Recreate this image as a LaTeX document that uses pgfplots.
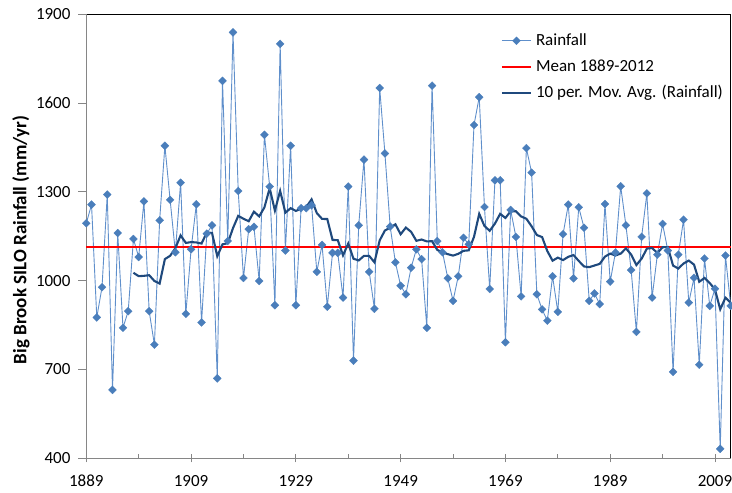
\documentclass[border=0pt]{standalone}
\usepackage{pgfplots}
\usepackage{pgfplotstable}
\pgfplotsset{compat=1.18}
\usepackage{fontspec}
\setmainfont{Carlito}
\definecolor{rainblue}{RGB}{74,126,187}
\definecolor{rainline}{RGB}{95,143,203}
\definecolor{mavg}{RGB}{31,73,125}
\definecolor{axgray}{RGB}{134,134,134}

\pgfplotstableread{
year rain
1889 1194
1890 1257
1891 876
1892 978
1893 1291
1894 631
1895 1161
1896 841
1897 897
1898 1141
1899 1080
1900 1268
1901 897
1902 784
1903 1204
1904 1456
1905 1273
1906 1096
1907 1331
1908 888
1909 1106
1910 1258
1911 859
1912 1159
1913 1187
1914 670
1915 1675
1916 1134
1917 1839
1918 1303
1919 1009
1920 1174
1921 1182
1922 999
1923 1493
1924 1318
1925 917
1926 1800
1927 1102
1928 1456
1929 917
1930 1245
1931 1245
1932 1255
1933 1030
1934 1121
1935 912
1936 1094
1937 1094
1938 943
1939 1318
1940 730
1941 1187
1942 1409
1943 1030
1944 905
1945 1651
1946 1430
1947 1183
1948 1062
1949 983
1950 954
1951 1044
1952 1106
1953 1073
1954 841
1955 1659
1956 1134
1957 1096
1958 1008
1959 932
1960 1015
1961 1145
1962 1123
1963 1526
1964 1620
1965 1249
1966 972
1967 1339
1968 1339
1969 792
1970 1239
1971 1148
1972 947
1973 1448
1974 1365
1975 954
1976 903
1977 865
1978 1015
1979 895
1980 1157
1981 1257
1982 1008
1983 1248
1984 1179
1985 932
1986 957
1987 921
1988 1259
1989 997
1990 1095
1991 1319
1992 1187
1993 1036
1994 827
1995 1148
1996 1295
1997 943
1998 1088
1999 1192
2000 1102
2001 692
2002 1088
2003 1206
2004 926
2005 1010
2006 716
2007 1075
2008 915
2009 973
2010 432
2011 1085
2012 915
}\raindata

\pgfplotstableread{
year ma
1898 1026.7
1899 1015.3
1900 1016.4
1901 1018.5
1902 999.1
1903 990.4
1904 1072.9
1905 1084.1
1906 1109.6
1907 1153.0
1908 1127.7
1909 1130.3
1910 1129.3
1911 1125.5
1912 1163.0
1913 1161.3
1914 1082.7
1915 1122.9
1916 1126.7
1917 1177.5
1918 1219.0
1919 1209.3
1920 1200.9
1921 1233.2
1922 1217.2
1923 1247.8
1924 1312.6
1925 1236.8
1926 1303.4
1927 1229.7
1928 1245.0
1929 1235.8
1930 1242.9
1931 1249.2
1932 1274.8
1933 1228.5
1934 1208.8
1935 1208.3
1936 1137.7
1937 1136.9
1938 1085.6
1939 1125.7
1940 1074.2
1941 1068.4
1942 1083.8
1943 1083.8
1944 1062.2
1945 1136.1
1946 1169.7
1947 1178.6
1948 1190.5
1949 1157.0
1950 1179.4
1951 1165.1
1952 1134.8
1953 1139.1
1954 1132.7
1955 1133.5
1956 1103.9
1957 1095.2
1958 1089.8
1959 1084.7
1960 1090.8
1961 1100.9
1962 1102.6
1963 1147.9
1964 1225.8
1965 1184.8
1966 1168.6
1967 1192.9
1968 1226.0
1969 1212.0
1970 1234.4
1971 1234.7
1972 1217.1
1973 1209.3
1974 1183.8
1975 1154.3
1976 1147.4
1977 1100.0
1978 1067.6
1979 1077.9
1980 1069.7
1981 1080.6
1982 1086.7
1983 1066.7
1984 1048.1
1985 1045.9
1986 1051.3
1987 1056.9
1988 1081.3
1989 1091.5
1990 1085.3
1991 1091.5
1992 1109.4
1993 1088.2
1994 1053.0
1995 1074.6
1996 1108.4
1997 1110.6
1998 1093.5
1999 1113.0
2000 1113.7
2001 1051.0
2002 1041.1
2003 1058.1
2004 1068.0
2005 1054.2
2006 996.3
2007 1009.5
2008 992.2
2009 970.3
2010 903.3
2011 942.6
2012 925.3
}\madata

\begin{document}
\begin{tikzpicture}
\useasboundingbox (-86.3pt,-34.7pt) rectangle (645.7pt,458.3pt);
\begin{axis}[
  at={(0pt,0pt)}, anchor=south west,
  scale only axis, width=644.4pt, height=444pt,
  xmin=1889, xmax=2012, ymin=400, ymax=1900,
  clip=false,
  xtick={1889,1909,...,2009},
  minor xtick={1899,1919,...,1999},
  ytick={400,700,...,1900},
  tick pos=left,
  tick align=outside,
  major tick length=8pt,
  minor tick length=4pt,
  every major x tick/.append style={yshift=4pt},
  every minor x tick/.append style={yshift=4pt},
  tick style={axgray, line width=0.8pt},
  axis line style={draw=none},
  /pgf/number format/assume math mode=true,
  /pgf/number format/1000 sep={},
  tick label style={font=\fontsize{17}{20}\selectfont},
  yticklabel style={xshift=-4.3pt},
  xticklabel style={yshift=-5.3pt},
  ylabel={Big Brook SILO Rainfall (mm/yr)},
  ylabel style={font=\bfseries\fontsize{19}{22}\selectfont, at={(axis description cs:-0.1013,0.492)}, anchor=center},
  legend style={at={(0.6431,0.9600)}, anchor=north west, draw=none, fill=none,
    font=\fontsize{17}{20}\selectfont, inner sep=0pt, row sep=9pt, column sep=4pt,
    nodes={inner sep=0pt, text height=12.75pt, text depth=4.25pt}},
  legend cell align=left,
  legend image code/.code={\draw[#1, mark repeat=2, mark phase=2] plot coordinates {(0pt,0pt) (14.5pt,0pt) (29pt,0pt)};},
]
\draw[black, line width=0.9pt] (rel axis cs:0,0) rectangle (rel axis cs:1,1);
\draw[axgray, line width=1pt] (rel axis cs:0,1) -- (rel axis cs:0,0) -- (rel axis cs:1,0);
\addplot[rainline, line width=0.9pt, mark=square*, mark size=2.8pt,
  mark options={rotate=45, fill=rainblue, draw=rainblue, line width=0.3pt}]
  table[x=year, y=rain] {\raindata};
\addlegendentry{Rainfall}
\addplot[red, line width=2.1pt] coordinates {(1889,1114) (2012,1114)};
\addlegendentry{Mean 1889-2012}
\addplot[mavg, line width=2.1pt] table[x=year, y=ma] {\madata};
\addlegendentry{10 per. Mov. Avg. (Rainfall)}
\end{axis}
\end{tikzpicture}
\end{document}
